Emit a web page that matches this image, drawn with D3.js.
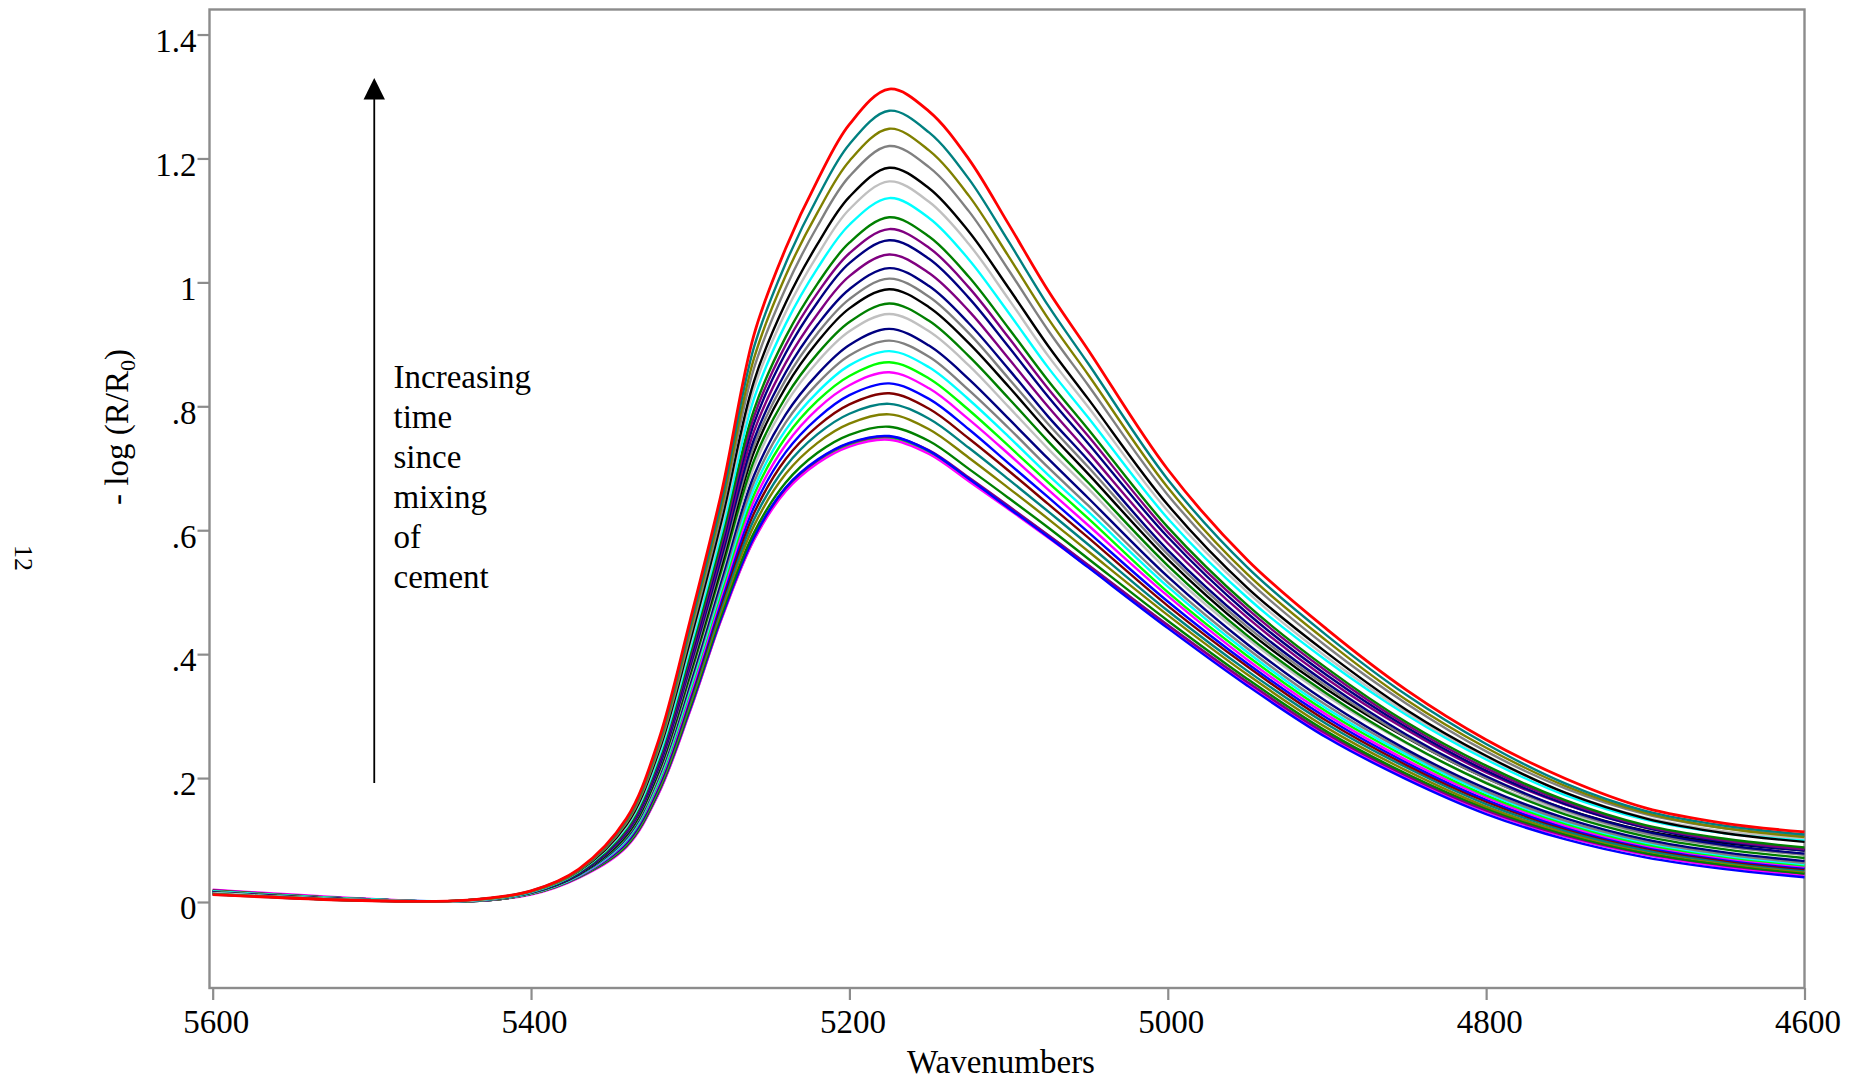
<!DOCTYPE html>
<html>
<head>
<meta charset="utf-8">
<script src="https://cdn.jsdelivr.net/npm/d3@7"></script>
<style>
  html, body { margin: 0; padding: 0; background: #fff; }
  svg { display: block; }
  text { font-family: "Liberation Serif", "Times New Roman", serif; fill: #000; }
</style>
</head>
<body>
<svg id="chart" width="1866" height="1081"></svg>
<script>
// Wavenumber grid (cm^-1) shared by every scan
const wavenumbers = [5600, 5500, 5440, 5400, 5370, 5340, 5320, 5300, 5280, 5260, 5240, 5220, 5200, 5175,
                     5150, 5125, 5100, 5075, 5050, 5000, 4950, 4900, 4850, 4800, 4750, 4700, 4650, 4600];

// -log(R/R0) for each scan, earliest first
const scan01 = [0.018,0.004,0.001,0.013,0.040,0.090,0.175,0.310,0.460,0.585,0.665,0.710,0.737,0.749,0.726,0.682,0.637,0.591,0.543,0.446,0.354,0.270,0.203,0.147,0.106,0.077,0.058,0.044];
const scan02 = [0.020,0.005,0.001,0.012,0.039,0.089,0.174,0.309,0.459,0.584,0.663,0.708,0.735,0.746,0.723,0.679,0.634,0.588,0.541,0.444,0.352,0.268,0.201,0.146,0.105,0.076,0.056,0.043];
const scan03 = [0.019,0.004,0.001,0.013,0.041,0.091,0.177,0.312,0.462,0.588,0.668,0.713,0.740,0.751,0.729,0.685,0.639,0.592,0.544,0.447,0.355,0.271,0.204,0.148,0.107,0.078,0.059,0.046];
const scan04 = [0.017,0.004,0.001,0.013,0.041,0.092,0.178,0.313,0.463,0.589,0.669,0.714,0.741,0.752,0.728,0.683,0.636,0.589,0.540,0.442,0.349,0.265,0.198,0.142,0.101,0.072,0.053,0.040];
const scan05 = [0.018,0.004,0.001,0.013,0.040,0.091,0.178,0.315,0.467,0.596,0.677,0.725,0.754,0.767,0.744,0.699,0.652,0.604,0.554,0.454,0.360,0.275,0.207,0.151,0.109,0.079,0.060,0.046];
const scan06 = [0.018,0.004,0.001,0.013,0.041,0.093,0.181,0.320,0.474,0.607,0.691,0.741,0.772,0.787,0.763,0.717,0.668,0.618,0.566,0.463,0.367,0.281,0.212,0.154,0.112,0.082,0.063,0.049];
const scan07 = [0.017,0.004,0.001,0.014,0.041,0.094,0.183,0.324,0.480,0.617,0.703,0.755,0.788,0.804,0.780,0.733,0.682,0.630,0.577,0.470,0.373,0.287,0.217,0.158,0.115,0.084,0.065,0.051];
const scan08 = [0.017,0.004,0.001,0.014,0.042,0.096,0.186,0.329,0.486,0.627,0.715,0.768,0.803,0.821,0.796,0.748,0.696,0.642,0.588,0.478,0.380,0.292,0.221,0.162,0.118,0.087,0.067,0.053];
const scan09 = [0.017,0.004,0.001,0.014,0.042,0.097,0.188,0.333,0.492,0.637,0.726,0.781,0.818,0.837,0.812,0.763,0.708,0.653,0.597,0.485,0.385,0.297,0.225,0.165,0.120,0.089,0.069,0.055];
const scan10 = [0.017,0.004,0.001,0.014,0.042,0.099,0.191,0.337,0.499,0.647,0.738,0.796,0.834,0.855,0.829,0.779,0.723,0.665,0.608,0.494,0.391,0.302,0.229,0.169,0.123,0.091,0.071,0.057];
const scan11 = [0.017,0.004,0.001,0.014,0.043,0.100,0.193,0.342,0.505,0.657,0.750,0.809,0.849,0.871,0.845,0.794,0.736,0.677,0.619,0.500,0.397,0.307,0.234,0.172,0.126,0.093,0.073,0.059];
const scan12 = [0.017,0.004,0.002,0.014,0.043,0.101,0.196,0.346,0.511,0.667,0.762,0.823,0.866,0.889,0.863,0.811,0.751,0.689,0.630,0.509,0.403,0.312,0.238,0.176,0.129,0.096,0.075,0.061];
const scan13 = [0.016,0.003,0.002,0.014,0.044,0.103,0.199,0.351,0.517,0.677,0.774,0.837,0.882,0.906,0.880,0.826,0.765,0.701,0.640,0.516,0.409,0.317,0.242,0.179,0.131,0.098,0.077,0.063];
const scan14 = [0.016,0.003,0.002,0.015,0.044,0.104,0.202,0.355,0.524,0.688,0.787,0.852,0.899,0.925,0.898,0.844,0.780,0.715,0.652,0.525,0.416,0.323,0.246,0.183,0.135,0.101,0.080,0.066];
const scan15 = [0.016,0.003,0.002,0.015,0.045,0.106,0.205,0.362,0.533,0.702,0.804,0.872,0.921,0.949,0.921,0.866,0.799,0.731,0.667,0.535,0.425,0.332,0.256,0.193,0.145,0.110,0.090,0.078];
const scan16 = [0.016,0.003,0.002,0.015,0.045,0.107,0.208,0.366,0.539,0.712,0.815,0.885,0.936,0.966,0.938,0.881,0.813,0.743,0.677,0.543,0.430,0.336,0.257,0.192,0.141,0.106,0.085,0.071];
const scan17 = [0.015,0.003,0.002,0.015,0.045,0.109,0.211,0.372,0.547,0.726,0.831,0.904,0.958,0.989,0.960,0.902,0.832,0.759,0.691,0.553,0.438,0.343,0.265,0.200,0.150,0.115,0.095,0.083];
const scan18 = [0.015,0.003,0.002,0.015,0.046,0.111,0.214,0.376,0.554,0.736,0.843,0.918,0.973,1.006,0.977,0.918,0.845,0.771,0.702,0.561,0.444,0.348,0.266,0.200,0.148,0.111,0.090,0.076];
const scan19 = [0.015,0.003,0.002,0.015,0.046,0.112,0.216,0.381,0.560,0.746,0.855,0.932,0.989,1.023,0.994,0.934,0.860,0.783,0.713,0.568,0.450,0.353,0.270,0.203,0.150,0.114,0.092,0.078];
const scan20 = [0.015,0.003,0.002,0.016,0.047,0.114,0.220,0.386,0.568,0.759,0.870,0.949,1.010,1.045,1.015,0.954,0.877,0.799,0.726,0.579,0.459,0.360,0.278,0.209,0.157,0.120,0.099,0.086];
const scan21 = [0.015,0.003,0.002,0.016,0.047,0.116,0.223,0.392,0.576,0.772,0.886,0.968,1.031,1.068,1.038,0.975,0.896,0.815,0.740,0.589,0.466,0.366,0.282,0.212,0.158,0.120,0.097,0.083];
const scan22 = [0.014,0.003,0.002,0.016,0.048,0.117,0.226,0.397,0.583,0.783,0.899,0.983,1.047,1.086,1.056,0.992,0.911,0.828,0.752,0.597,0.473,0.372,0.286,0.216,0.161,0.122,0.099,0.085];
const scan23 = [0.014,0.003,0.002,0.016,0.048,0.118,0.229,0.402,0.590,0.794,0.912,0.998,1.064,1.105,1.074,1.009,0.926,0.841,0.763,0.605,0.479,0.377,0.290,0.220,0.164,0.124,0.102,0.088];
const scan24 = [0.014,0.003,0.002,0.016,0.049,0.121,0.233,0.410,0.601,0.812,0.933,1.023,1.093,1.136,1.104,1.037,0.951,0.862,0.782,0.619,0.491,0.389,0.302,0.230,0.172,0.133,0.111,0.100];
const scan25 = [0.014,0.003,0.002,0.017,0.050,0.123,0.238,0.417,0.611,0.828,0.952,1.044,1.118,1.163,1.130,1.062,0.973,0.881,0.799,0.631,0.500,0.395,0.306,0.234,0.176,0.136,0.114,0.103];
const scan26 = [0.013,0.002,0.003,0.017,0.050,0.125,0.241,0.422,0.619,0.840,0.967,1.062,1.138,1.185,1.152,1.082,0.991,0.897,0.812,0.641,0.507,0.402,0.310,0.236,0.176,0.135,0.111,0.097];
const scan27 = [0.013,0.002,0.003,0.017,0.051,0.128,0.246,0.431,0.632,0.861,0.991,1.091,1.171,1.220,1.186,1.115,1.020,0.922,0.834,0.657,0.520,0.412,0.320,0.243,0.183,0.142,0.119,0.107];
const scan28 = [0.013,0.002,0.003,0.017,0.051,0.130,0.250,0.439,0.642,0.877,1.011,1.113,1.196,1.248,1.213,1.140,1.042,0.941,0.851,0.669,0.529,0.421,0.326,0.249,0.187,0.144,0.119,0.105];
const scan29 = [0.012,0.002,0.003,0.018,0.052,0.132,0.255,0.446,0.652,0.895,1.031,1.137,1.223,1.277,1.242,1.167,1.066,0.962,0.869,0.682,0.540,0.430,0.334,0.255,0.191,0.147,0.123,0.109];
const scan30 = [0.012,0.002,0.003,0.018,0.053,0.135,0.260,0.455,0.665,0.915,1.055,1.165,1.255,1.312,1.276,1.199,1.094,0.986,0.891,0.698,0.552,0.440,0.342,0.262,0.199,0.152,0.127,0.113];

const scans = [scan01, scan02, scan03, scan04, scan05, scan06, scan07, scan08, scan09, scan10,
               scan11, scan12, scan13, scan14, scan15, scan16, scan17, scan18, scan19, scan20,
               scan21, scan22, scan23, scan24, scan25, scan26, scan27, scan28, scan29, scan30];

const scanColors = ['#00ff00','#ff00ff','#800080','#0000ff','#008000','#808000','#008080','#800000','#0000ff','#ff00ff',
                    '#00ff00','#00ffff','#808080','#000080','#c0c0c0','#008000','#000000','#808080','#000080','#800080',
                    '#000080','#800080','#008000','#00ffff','#c0c0c0','#000000','#808080','#808000','#008080','#ff0000'];

const xTicks = [5600, 5400, 5200, 5000, 4800, 4600];
const yTicks = [0, 0.2, 0.4, 0.6, 0.8, 1, 1.2, 1.4];
const yTickLabels = ['0', '.2', '.4', '.6', '.8', '1', '1.2', '1.4'];
const noteLines = ['Increasing', 'time', 'since', 'mixing', 'of', 'cement'];

// ---- layout ----
const frame = { left: 209.5, right: 1804.5, top: 9.5, bottom: 988 };
const axisColor = '#8c8c8c';
const fontSize = 33;

const svg = d3.select('#chart');
svg.append('rect').attr('width', 1866).attr('height', 1081).attr('fill', '#fff');

const x = d3.scaleLinear().domain([5602, 4600]).range([frame.left, frame.right]);
const y = d3.scaleLinear().domain([-0.1388, 1.4404]).range([frame.bottom, frame.top]);

// x axis
const gx = svg.append('g')
  .attr('transform', `translate(0,${frame.bottom})`)
  .call(d3.axisBottom(x).tickValues(xTicks).tickSize(12).tickSizeOuter(0).tickFormat(d3.format('d')));
gx.select('.domain').remove();
gx.selectAll('.tick line').attr('stroke', axisColor).attr('stroke-width', 2.2);
gx.selectAll('.tick text')
  .attr('y', 45.3).attr('dy', 0).attr('dx', 3)
  .style('font-size', fontSize + 'px')
  .style('font-family', '"Liberation Serif", serif')
  .attr('fill', '#000');

// y axis
const gy = svg.append('g')
  .attr('transform', `translate(${frame.left},0)`)
  .call(d3.axisLeft(y).tickValues(yTicks).tickSize(12).tickSizeOuter(0).tickPadding(1)
        .tickFormat((d, i) => yTickLabels[i]));
gy.select('.domain').remove();
gy.selectAll('.tick line').attr('stroke', axisColor).attr('stroke-width', 2.2);
gy.selectAll('.tick text')
  .attr('dy', '0.51em')
  .style('font-size', fontSize + 'px')
  .style('font-family', '"Liberation Serif", serif')
  .attr('fill', '#000');

// plot frame
svg.append('rect')
  .attr('x', frame.left).attr('y', frame.top)
  .attr('width', frame.right - frame.left).attr('height', frame.bottom - frame.top)
  .attr('fill', 'none').attr('stroke', axisColor).attr('stroke-width', 2.4);

// spectra, earliest scan drawn first so the latest sits on top
const line = d3.line()
  .x((d, i) => x(wavenumbers[i]))
  .y(d => y(d))
  .curve(d3.curveCatmullRom.alpha(0.5));

svg.append('g')
  .selectAll('path')
  .data(scans)
  .join('path')
  .attr('d', line)
  .attr('fill', 'none')
  .attr('stroke', (d, i) => scanColors[i])
  .attr('stroke-width', (d, i) => i === scans.length - 1 ? 2.8 : 2.4)
  .attr('stroke-linejoin', 'round');

// axis titles
svg.append('text')
  .attr('x', 1001).attr('y', 1073)
  .attr('text-anchor', 'middle')
  .style('font-size', fontSize + 'px')
  .text('Wavenumbers');

const yTitle = svg.append('text')
  .attr('transform', 'translate(128,427) rotate(-90)')
  .attr('text-anchor', 'middle')
  .style('font-size', fontSize + 'px');
yTitle.append('tspan').text('- log (R/R');
yTitle.append('tspan').attr('dy', 7).style('font-size', '22px').text('0');
yTitle.append('tspan').attr('dy', -7).text(')');

// page number
svg.append('text')
  .attr('transform', 'translate(15,545) rotate(90)')
  .style('font-size', '26px')
  .text('12');

// time arrow
const arrowX = x(5498.5);
const arrowBase = y(0.192);
const arrowTip = y(1.33);
svg.append('line')
  .attr('x1', arrowX).attr('x2', arrowX)
  .attr('y1', arrowBase).attr('y2', arrowTip + 18)
  .attr('stroke', '#000').attr('stroke-width', 1.8);
svg.append('path')
  .attr('d', `M${arrowX},${arrowTip} L${arrowX - 10.7},${arrowTip + 21.5} L${arrowX + 10.7},${arrowTip + 21.5} Z`)
  .attr('fill', '#000');

// arrow note
svg.append('g').selectAll('text')
  .data(noteLines)
  .join('text')
  .attr('x', 393.5)
  .attr('y', (d, i) => 387.8 + i * 40.1)
  .style('font-size', fontSize + 'px')
  .text(d => d);
</script>
</body>
</html>
